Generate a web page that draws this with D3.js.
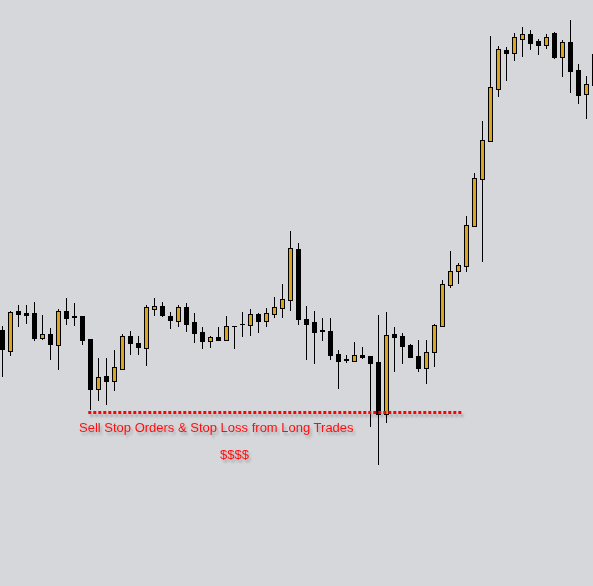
<!DOCTYPE html>
<html>
<head>
<meta charset="utf-8">
<script src="https://cdn.jsdelivr.net/npm/d3@7"></script>
<style>
  html, body { margin: 0; padding: 0; background: #d6d7db; }
  svg { display: block; }
</style>
</head>
<body>
<div id="chart"></div>
<script>
// candle prices (no price axis shown)
const opens = [1.2270, 1.2249, 1.2289, 1.2287, 1.2287, 1.2262, 1.2266, 1.2255, 1.2289, 1.2284,
  1.2284, 1.2261, 1.2211, 1.2224, 1.2219, 1.2231, 1.2264, 1.2257, 1.2252, 1.2291,
  1.2294, 1.2284, 1.2279, 1.2293, 1.2278, 1.2268, 1.2259, 1.2263, 1.2260, 1.2274,
  1.2276, 1.2275, 1.2286, 1.2279, 1.2286, 1.2292, 1.2300, 1.2351, 1.2281, 1.2278,
  1.2270, 1.2269, 1.2246, 1.2241, 1.2239, 1.2245, 1.2244, 1.2238, 1.2186, 1.2266,
  1.2264, 1.2255, 1.2244, 1.2232, 1.2248, 1.2274, 1.2315, 1.2329, 1.2334, 1.2374,
  1.2421, 1.2459, 1.2511, 1.2550, 1.2547, 1.2561, 1.2566, 1.2559, 1.2555, 1.2567,
  1.2543, 1.2558, 1.2530, 1.2506, 1.2546]
const highs = [1.2274, 1.2289, 1.2295, 1.2295, 1.2298, 1.2285, 1.2272, 1.2291, 1.2302, 1.2297,
  1.2284, 1.2261, 1.2242, 1.2242, 1.2250, 1.2266, 1.2269, 1.2264, 1.2295, 1.2302,
  1.2298, 1.2288, 1.2295, 1.2297, 1.2287, 1.2273, 1.2264, 1.2273, 1.2284, 1.2274,
  1.2288, 1.2291, 1.2287, 1.2292, 1.2303, 1.2316, 1.2369, 1.2357, 1.2294, 1.2289,
  1.2282, 1.2282, 1.2250, 1.2245, 1.2258, 1.2253, 1.2244, 1.2285, 1.2288, 1.2273,
  1.2267, 1.2256, 1.2260, 1.2260, 1.2276, 1.2320, 1.2349, 1.2337, 1.2384, 1.2427,
  1.2479, 1.2564, 1.2554, 1.2553, 1.2567, 1.2573, 1.2570, 1.2561, 1.2566, 1.2568,
  1.2560, 1.2580, 1.2536, 1.2524, 1.2550]
const lows = [1.2223, 1.2244, 1.2273, 1.2276, 1.2259, 1.2260, 1.2240, 1.2230, 1.2275, 1.2274,
  1.2255, 1.2190, 1.2199, 1.2195, 1.2209, 1.2230, 1.2245, 1.2245, 1.2234, 1.2284,
  1.2283, 1.2271, 1.2273, 1.2268, 1.2257, 1.2251, 1.2252, 1.2260, 1.2260, 1.2251,
  1.2263, 1.2264, 1.2267, 1.2273, 1.2282, 1.2282, 1.2289, 1.2275, 1.2240, 1.2236,
  1.2259, 1.2240, 1.2211, 1.2237, 1.2239, 1.2241, 1.2173, 1.2135, 1.2177, 1.2228,
  1.2236, 1.2242, 1.2228, 1.2216, 1.2233, 1.2274, 1.2312, 1.2316, 1.2328, 1.2374,
  1.2338, 1.2459, 1.2503, 1.2519, 1.2539, 1.2543, 1.2550, 1.2545, 1.2551, 1.2541,
  1.2523, 1.2507, 1.2496, 1.2481, 1.2505]
const closes = [1.2251, 1.2288, 1.2286, 1.2285, 1.2262, 1.2266, 1.2256, 1.2289, 1.2282, 1.2283,
  1.2260, 1.2211, 1.2223, 1.2219, 1.2233, 1.2264, 1.2257, 1.2253, 1.2293, 1.2294,
  1.2285, 1.2280, 1.2293, 1.2276, 1.2267, 1.2259, 1.2263, 1.2260, 1.2274, 1.2274,
  1.2276, 1.2286, 1.2279, 1.2287, 1.2293, 1.2301, 1.2352, 1.2281, 1.2276, 1.2268,
  1.2269, 1.2245, 1.2239, 1.2240, 1.2245, 1.2243, 1.2237, 1.2186, 1.2265, 1.2263,
  1.2254, 1.2243, 1.2232, 1.2248, 1.2275, 1.2316, 1.2329, 1.2335, 1.2375, 1.2422,
  1.2460, 1.2513, 1.2551, 1.2547, 1.2563, 1.2566, 1.2557, 1.2555, 1.2563, 1.2543,
  1.2558, 1.2529, 1.2505, 1.2516, 1.2515]

// stop level annotation
const stopLevel = 1.21875
const stopFrom = 10.75, stopTo = 57.55
const labelMain = 'Sell Stop Orders & Stop Loss from Long Trades'
const labelSub = '$$$$'

const w = 593, h = 586
const candles = opens.map((o, i) => ({ i, o, h: highs[i], l: lows[i], c: closes[i] }))

const x = d3.scaleLinear().domain([0, candles.length - 1]).range([2.3, 2.3 + 8 * (candles.length - 1)])
const y = d3.scaleLinear().domain([1.2014, 1.2600]).range([h, 0])

const svg = d3.select('#chart').append('svg').attr('width', w).attr('height', h)
svg.append('rect').attr('width', w).attr('height', h).attr('fill', '#d6d7db')

const filter = svg.append('defs').append('filter').attr('id', 'shadow')
  .attr('x', '-5%').attr('y', '-50%').attr('width', '110%').attr('height', '250%')
filter.append('feDropShadow').attr('dx', 2).attr('dy', 3).attr('stdDeviation', 1.3)
  .attr('flood-color', '#000').attr('flood-opacity', 0.22)

const px = (i) => Math.floor(x(i))
const py = (v) => Math.round(y(v)) + 0.5

const g = svg.append('g')

// wicks
g.selectAll('line.wick').data(candles).join('line')
  .attr('class', 'wick')
  .attr('x1', (d) => px(d.i) + 0.5).attr('x2', (d) => px(d.i) + 0.5)
  .attr('y1', (d) => Math.round(y(d.h))).attr('y2', (d) => Math.round(y(d.l)))
  .attr('stroke', '#000').attr('stroke-width', 1)

// bodies
g.selectAll('rect.body').data(candles.filter((d) => d.o !== d.c)).join('rect')
  .attr('class', 'body')
  .attr('x', (d) => px(d.i) - 1.5)
  .attr('width', 4)
  .attr('y', (d) => py(Math.max(d.o, d.c)))
  .attr('height', (d) => Math.max(1, py(Math.min(d.o, d.c)) - py(Math.max(d.o, d.c))))
  .attr('fill', (d) => (d.c > d.o ? '#daa520' : '#000'))
  .attr('stroke', '#000').attr('stroke-width', 1)

// dojis
g.selectAll('line.doji').data(candles.filter((d) => d.o === d.c)).join('line')
  .attr('class', 'doji')
  .attr('x1', (d) => px(d.i) - 2).attr('x2', (d) => px(d.i) + 3)
  .attr('y1', (d) => py(d.o)).attr('y2', (d) => py(d.o))
  .attr('stroke', '#000').attr('stroke-width', 1)

// stop line + labels
const ann = svg.append('g').attr('filter', 'url(#shadow)')
ann.append('line')
  .attr('x1', x(stopFrom)).attr('x2', x(stopTo))
  .attr('y1', y(stopLevel)).attr('y2', y(stopLevel))
  .attr('stroke', '#ff0000').attr('stroke-width', 3)
  .attr('stroke-dasharray', '3 2')

ann.append('text')
  .attr('x', 79).attr('y', y(stopLevel) + 19)
  .attr('font-family', 'Liberation Sans, Arial, sans-serif').attr('font-size', 13)
  .attr('fill', '#ff1010')
  .text(labelMain)

ann.append('text')
  .attr('x', 220).attr('y', y(stopLevel) + 46.5)
  .attr('font-family', 'Liberation Sans, Arial, sans-serif').attr('font-size', 13)
  .attr('fill', '#ff1010')
  .text(labelSub)
</script>
</body>
</html>
